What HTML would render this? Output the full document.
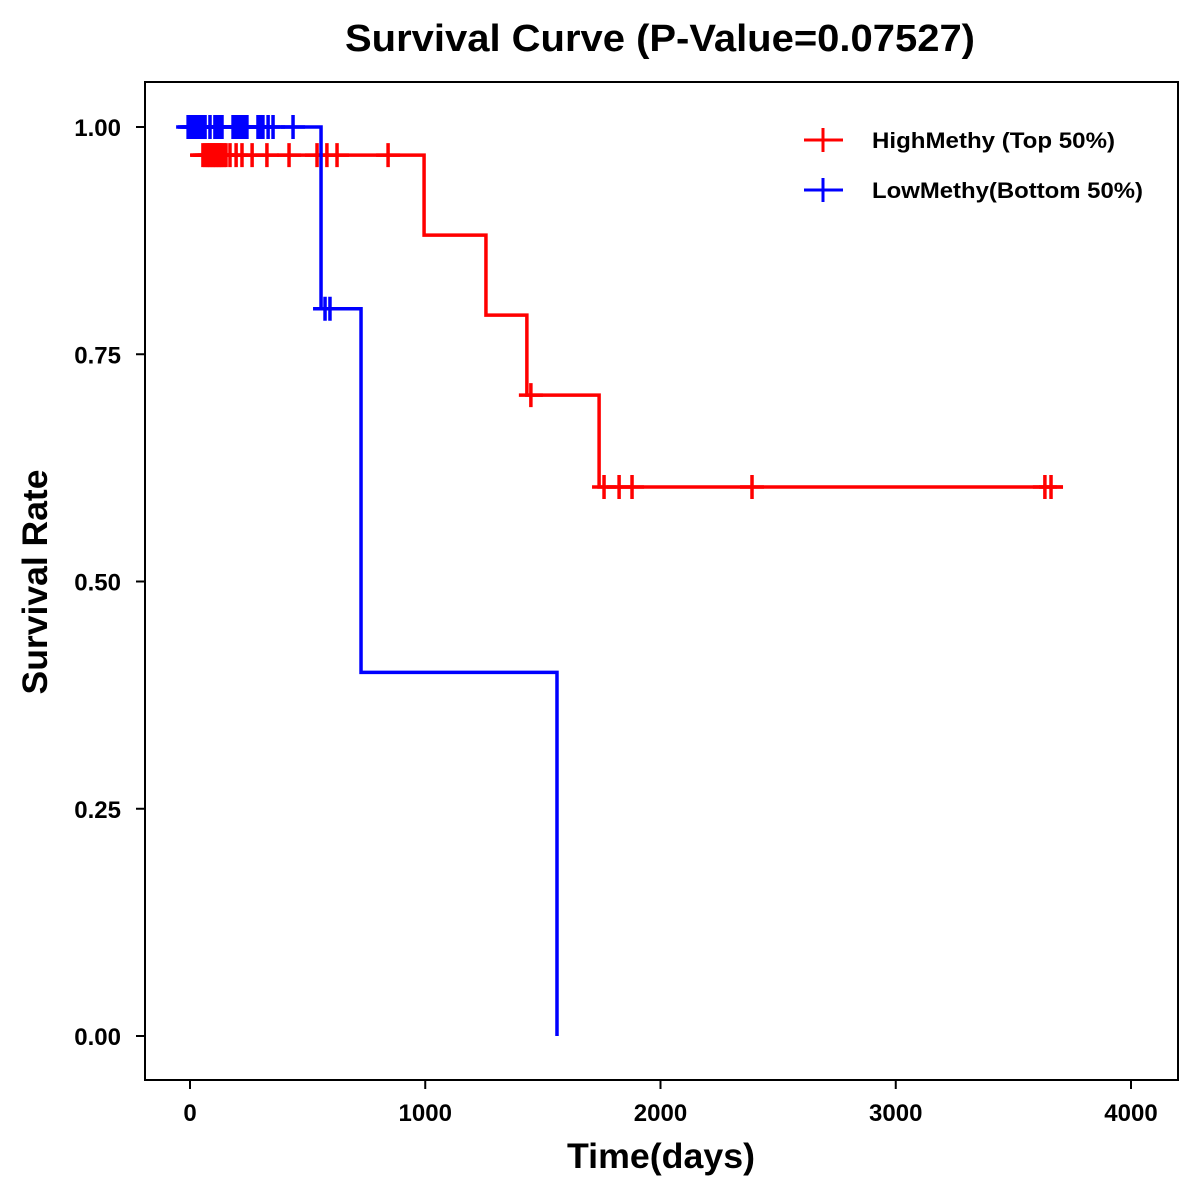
<!DOCTYPE html>
<html><head><meta charset="utf-8"><style>
html,body{margin:0;padding:0;background:#fff;}
svg{display:block;font-family:"Liberation Sans",Arial,sans-serif;}
</style></head><body>
<svg id="chart" width="1200" height="1200" viewBox="0 0 1200 1200">
<rect x="0" y="0" width="1200" height="1200" fill="#fff"/>
<text x="660" y="51" text-anchor="middle" font-size="38" font-weight="bold" textLength="630" lengthAdjust="spacingAndGlyphs">Survival Curve (P-Value=0.07527)</text>
<rect x="145" y="82" width="1033" height="998" fill="none" stroke="#000" stroke-width="2"/>
<g id="axes"></g>
<g id="series"></g>
<text x="661" y="1168" text-anchor="middle" font-size="35" font-weight="bold" textLength="188" lengthAdjust="spacingAndGlyphs">Time(days)</text>
<text transform="translate(47,582) rotate(-90)" text-anchor="middle" font-size="35" font-weight="bold" textLength="225" lengthAdjust="spacingAndGlyphs">Survival Rate</text>
<g>
 <g>
  <line x1="804" y1="140" x2="843" y2="140" stroke="#f00" stroke-width="3"/>
  <line x1="823" y1="128" x2="823" y2="152" stroke="#f00" stroke-width="3"/>
  <text x="872" y="148" font-size="22" font-weight="bold" textLength="243" lengthAdjust="spacingAndGlyphs">HighMethy (Top 50%)</text>
 </g>
 <g>
  <line x1="804" y1="190" x2="843" y2="190" stroke="#00f" stroke-width="3"/>
  <line x1="823" y1="178" x2="823" y2="202" stroke="#00f" stroke-width="3"/>
  <text x="872" y="198" font-size="22" font-weight="bold" textLength="271" lengthAdjust="spacingAndGlyphs">LowMethy(Bottom 50%)</text>
 </g>
</g>
</svg>
<script>
const xTicks = [0, 1000, 2000, 3000, 4000];
const yTicks = [0, 0.25, 0.5, 0.75, 1.0];
const yTickLabels = ["0.00", "0.25", "0.50", "0.75", "1.00"];
const highTimes = [0, 995, 1258, 1432, 1739, 3711];
const highSurv = [0.969, 0.881, 0.793, 0.705, 0.604, 0.604];
const highCensor = [55, 64, 72, 79, 85, 92, 98, 104, 110, 117, 123, 130, 136, 145, 153, 170, 196, 221, 264, 327, 421, 540, 582, 625, 842, 1449, 1760, 1824, 1879, 2389, 3634, 3660];
const lowTimes = [0, 557, 727, 1560];
const lowSurv = [1.0, 0.8, 0.4, 0.0];
const lowCensor = [-8, 0, 8, 15, 21, 28, 34, 40, 47, 55, 64, 85, 106, 115, 123, 136, 183, 190, 196, 204, 213, 222, 230, 242, 289, 300, 310, 332, 353, 438, 574, 595];

const NS = "http://www.w3.org/2000/svg";
const xs = t => 190 + t * 941 / 4000;
const ys = v => 1036 - v * 909;
function mk(tag, attrs, parent) {
  const e = document.createElementNS(NS, tag);
  for (const k in attrs) e.setAttribute(k, attrs[k]);
  parent.appendChild(e);
  return e;
}
const axes = document.getElementById("axes");
xTicks.forEach(t => {
  const l = mk("line", {x1: xs(t), x2: xs(t), y1: 1080, y2: 1089, stroke: "#000", "stroke-width": 2}, axes);
  
  
  const tx = mk("text", {x: xs(t), y: 1121, "text-anchor": "middle", "font-size": 24, "font-weight": "bold"}, axes);
  tx.textContent = t;
  
  
});
yTicks.forEach((v, i) => {
  const l = mk("line", {x1: 136, x2: 145, y1: ys(v), y2: ys(v), stroke: "#000", "stroke-width": 2}, axes);
  
  
  const tx = mk("text", {x: 121, y: ys(v) + 9, "text-anchor": "end", "font-size": 24, "font-weight": "bold"}, axes);
  tx.textContent = yTickLabels[i];
  
  
});
const series = document.getElementById("series");
function survAt(times, surv, t) {
  let s = surv[0];
  for (let i = 0; i < times.length; i++) if (times[i] <= t) s = surv[i];
  return s;
}
function drawSeries(times, surv, censor, color, name) {
  const g = mk("g", {}, series);
  
  
  let d = "M" + xs(times[0]) + "," + ys(surv[0]);
  for (let i = 1; i < times.length; i++) {
    d += " H" + xs(times[i]) + " V" + ys(surv[i]);
  }
  const p = mk("path", {d: d, fill: "none", stroke: color, "stroke-width": 3.5}, g);
  
  
  censor.forEach(t => {
    const v = survAt(times, surv, t);
    const x = xs(t), y = ys(v);
    const c = mk("path", {d: `M${x - 12},${y} H${x + 12} M${x},${y - 12} V${y + 12}`, stroke: color, "stroke-width": 3.5, fill: "none"}, g);
    
    
  });
}
drawSeries(highTimes, highSurv, highCensor, "#f00", "high-methy-curve");
drawSeries(lowTimes, lowSurv, lowCensor, "#00f", "low-methy-curve");
</script>
</body></html>
